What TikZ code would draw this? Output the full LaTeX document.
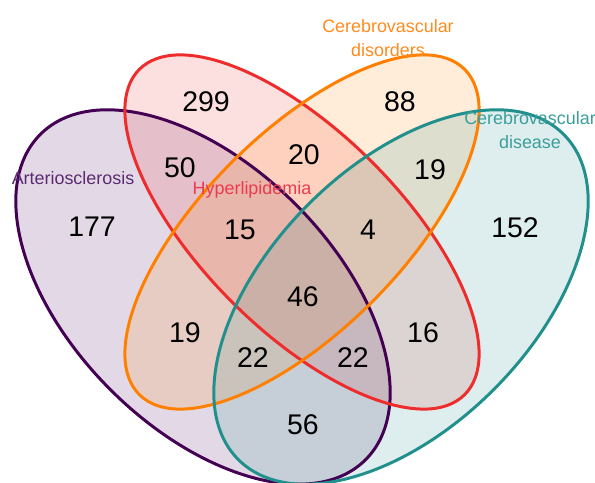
\documentclass[tikz,border=0pt]{standalone}
\usepackage{fontspec}
\setmainfont{Liberation Sans}
\definecolor{cA}{HTML}{440154}
\definecolor{cAt}{HTML}{5B2A72}
\definecolor{cH}{HTML}{EE2C2C}
\definecolor{cHt}{HTML}{EC3A4E}
\definecolor{cO}{HTML}{FF8000}
\definecolor{cOt}{HTML}{FF8A1E}
\definecolor{cT}{HTML}{21908C}
\definecolor{cTt}{HTML}{3A9E9A}
\tikzset{
  num/.style={font=\fontsize{16.2}{19}\selectfont, text=black, inner sep=0pt},
  lab/.style={font=\fontsize{10.2}{14.2}\selectfont, anchor=base, align=center, inner sep=0pt},
  ring/.style={line width=1.7pt},
}
\begin{document}
\begin{tikzpicture}[x=0.02cm,y=0.02cm]
\useasboundingbox (0,0) rectangle (595,483);
\clip (0,0) rectangle (595,483);
% centres
\coordinate (pA) at (203,186);
\coordinate (pT) at (401,186);
\coordinate (pH) at (302,251);
\coordinate (pO) at (302,251);
% fills
\fill[cA, fill opacity=0.15, rotate around={-45:(pA)}] (pA) ellipse [x radius=230, y radius=131];
\fill[cH, fill opacity=0.15, rotate around={-45:(pH)}] (pH) ellipse [x radius=230, y radius=99];
\fill[cO, fill opacity=0.15, rotate around={45:(pO)}] (pO) ellipse [x radius=230, y radius=99];
\fill[cT, fill opacity=0.15, rotate around={45:(pT)}] (pT) ellipse [x radius=230, y radius=131];
% borders
\draw[ring, cA, rotate around={-45:(pA)}] (pA) ellipse [x radius=230, y radius=131];
\draw[ring, cH, rotate around={-45:(pH)}] (pH) ellipse [x radius=230, y radius=99];
\draw[ring, cO, rotate around={45:(pO)}] (pO) ellipse [x radius=230, y radius=99];
\draw[ring, cT, rotate around={45:(pT)}] (pT) ellipse [x radius=230, y radius=131];
% counts
\node[num] (n299) at (206,381) {299};
\node[num] (n88) at (400,381) {88};
\node[num] (n50) at (180,315) {50};
\node[num] (n20) at (304,328) {20};
\node[num] (n19a) at (430,313) {19};
\node[num] (n177) at (92,256) {177};
\node[num] (n15) at (240,253) {15};
\node[num] (n4) at (368,253) {4};
\node[num] (n152) at (515,255) {152};
\node[num] (n46) at (303,186) {46};
\node[num] (n19b) at (185,150) {19};
\node[num] (n16) at (423,150) {16};
\node[num] (n22a) at (253,125) {22};
\node[num] (n22b) at (353,125) {22};
\node[num] (n56) at (303,58) {56};
% labels
\node[lab, text=cAt] (lA) at (73,298) {Arteriosclerosis};
\node[lab, text=cHt] (lH) at (252,288) {Hyperlipidemia};
\node[lab, text=cOt] (lO) at (388,426) {Cerebrovascular\\disorders};
\node[lab, text=cTt] (lT) at (530,334) {Cerebrovascular\\disease};
\end{tikzpicture}
\end{document}
